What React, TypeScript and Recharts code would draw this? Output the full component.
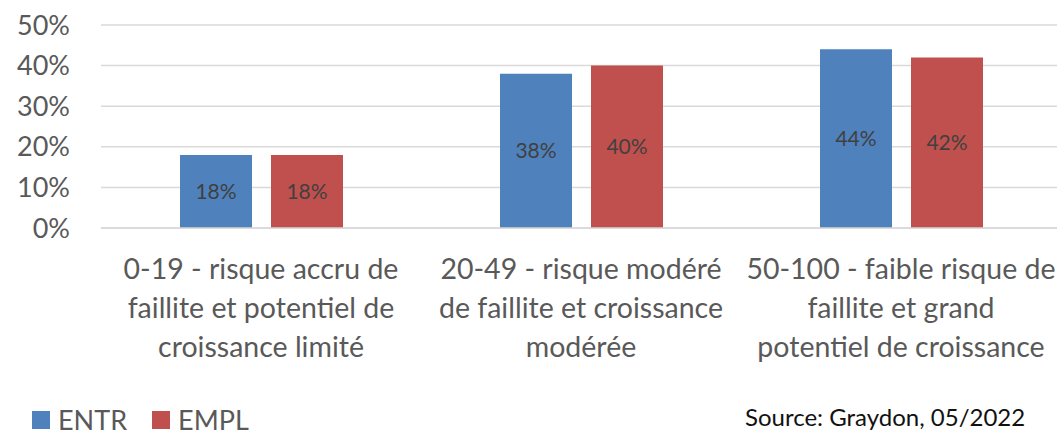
import { Bar, BarChart, CartesianGrid, LabelList, Legend, XAxis, YAxis } from 'recharts'

const categories = ['0-19', '20-49', '50-100']
const categoryLines = [
  ['0-19 - risque accru de', 'faillite et potentiel de', 'croissance limité'],
  ['20-49 - risque modéré', 'de faillite et croissance', 'modérée'],
  ['50-100 - faible risque de', 'faillite et grand', 'potentiel de croissance'],
]
const entr = [0.18, 0.38, 0.44]
const empl = [0.18, 0.4, 0.42]
const yTicks = [0, 0.1, 0.2, 0.3, 0.4, 0.5]
const seriesNames = ['ENTR', 'EMPL']
const seriesColors = ['#4F81BD', '#C0504D']

const data = categories.map((c, i) => ({ name: c, i, ENTR: entr[i], EMPL: empl[i] }))

const FONT = 'Lato, "Open Sans", sans-serif'
const pct = (v: number) => `${Math.round(v * 100)}%`

function CategoryTick({ x, y, payload }: any) {
  const lines = categoryLines[payload.index] || [String(payload.value)]
  return (
    <text x={x} y={y} textAnchor="middle" fill="#595959" fontSize={28.5} fontFamily={FONT}>
      {lines.map((l, k) => (
        <tspan key={k} x={x} y={y + 51 + k * 39}>
          {l}
        </tspan>
      ))}
    </text>
  )
}

function LegendContent() {
  return (
    <div
      style={{
        display: 'flex',
        alignItems: 'center',
        fontFamily: FONT,
        fontSize: 27,
        lineHeight: '28px',
        color: '#595959',
      }}
    >
      {seriesNames.map((n, k) => (
        <div key={n} style={{ display: 'flex', alignItems: 'center', marginRight: 25 }}>
          <span style={{ width: 18, height: 18, background: seriesColors[k], marginRight: 8, display: 'inline-block' }} />
          <span>{n}</span>
        </div>
      ))}
    </div>
  )
}

export default function App() {
  return (
    <div style={{ position: 'absolute', left: 0, top: 0, width: 1057, height: 439, overflow: 'hidden', background: '#fff' }}>
      <BarChart
        width={1061}
        height={439}
        data={data}
        margin={{ top: 25, right: 0, left: 0, bottom: 11 }}
        barSize={72}
        barGap={19}
      >
        <CartesianGrid stroke="#d9d9d9" strokeWidth={1.5} vertical={false} />
        <XAxis
          dataKey="name"
          height={170}
          axisLine={{ stroke: '#d9d9d9', strokeWidth: 1.5 }}
          tickLine={false}
          tickSize={0}
          tickMargin={0}
          interval={0}
          tick={<CategoryTick />}
        />
        <YAxis
          width={101}
          domain={[0, 0.5]}
          ticks={yTicks}
          tickFormatter={pct}
          axisLine={false}
          tickLine={false}
          tickMargin={25}
          tick={{ fill: '#595959', fontSize: 27, fontFamily: FONT }}
        />
        <Legend
          verticalAlign="bottom"
          align="left"
          height={30}
          content={<LegendContent />}
          wrapperStyle={{ left: 32, bottom: 3 }}
        />
        {seriesNames.map((n, k) => (
          <Bar key={n} dataKey={n} fill={seriesColors[k]} isAnimationActive={false}>
            <LabelList
              dataKey={n}
              position="center"
              formatter={(v: any) => pct(Number(v))}
              fill="#404040"
              fontSize={21}
              fontFamily={FONT}
            />
          </Bar>
        ))}
      </BarChart>
      <div
        style={{
          position: 'absolute',
          left: 745,
          top: 402,
          fontFamily: FONT,
          fontSize: 24,
          color: '#111',
          whiteSpace: 'nowrap',
        }}
      >
        Source: Graydon, 05/2022
      </div>
    </div>
  )
}
